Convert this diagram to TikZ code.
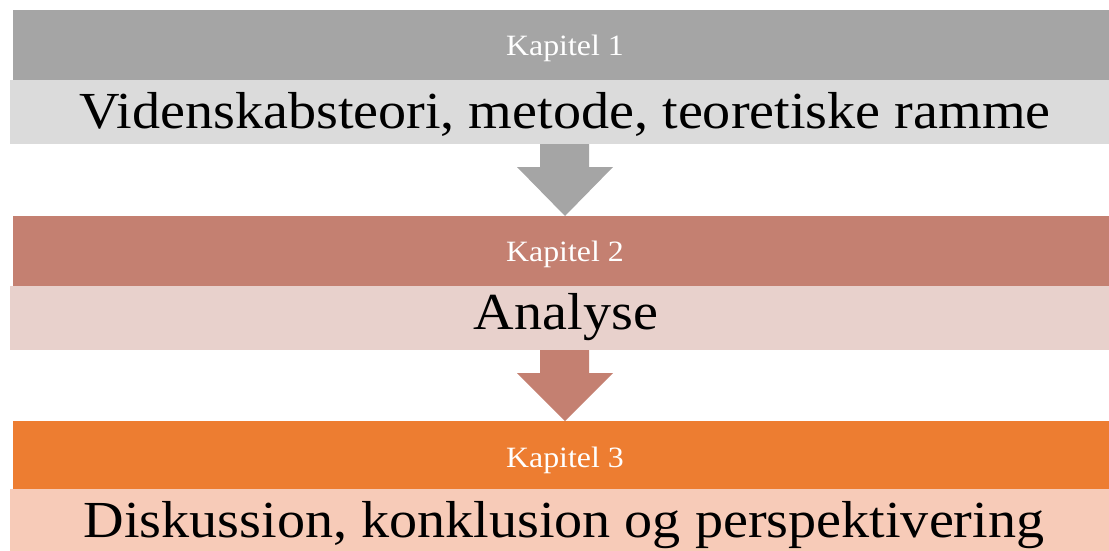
\documentclass[tikz,border=0pt]{standalone}
\usepackage{fontspec}
\setmainfont[FakeStretch=1.08]{Liberation Serif}
\definecolor{hdrA}{HTML}{A5A5A5}
\definecolor{barA}{HTML}{DBDBDB}
\definecolor{hdrB}{HTML}{C48071}
\definecolor{barB}{HTML}{E8D1CC}
\definecolor{hdrC}{HTML}{ED7D31}
\definecolor{barC}{HTML}{F7CBB8}
\tikzset{
  hdr/.style={anchor=north west, inner sep=0pt, minimum width=1096pt, minimum height=70pt, draw=none},
  bar/.style={anchor=north west, inner sep=0pt, minimum width=1099pt, minimum height=64pt, draw=none},
  small/.style={anchor=base, inner sep=0pt, text=white, font=\fontsize{29.5}{33}\selectfont},
  big/.style={anchor=base, inner sep=0pt, text=black, font=\fontsize{52}{60}\selectfont},
}
\begin{document}
\begin{tikzpicture}[x=1pt,y=-1pt]
\useasboundingbox (0,0) rectangle (1109,550);
% boxes
\node[hdr, fill=hdrA] (h1) at (13,10) {};
\node[bar, fill=barA] (b1) at (10,80) {};
\node[hdr, fill=hdrB] (h2) at (13,216) {};
\node[bar, fill=barB] (b2) at (10,286) {};
\node[hdr, fill=hdrC] (h3) at (13,421) {};
\node[bar, fill=barC, minimum height=70pt] (b3) at (10,489) {};
% arrows
\fill[hdrA] (540,144) -- (589,144) -- (589,167) -- (613,167) -- (565,216) -- (517,167) -- (540,167) -- cycle;
\fill[hdrB] (540,350) -- (589,350) -- (589,373) -- (613,373) -- (565,421) -- (517,373) -- (540,373) -- cycle;
% texts
\node[small] (k1) at (565,55) {Kapitel 1};
\node[big] (t1) at (565,128) {Videnskabsteori, metode, teoretiske ramme};
\node[small] (k2) at (565,261) {Kapitel 2};
\node[big] (t2) at (566,329) {Analyse};
\node[small] (k3) at (565,467) {Kapitel 3};
\node[big] (t3) at (564,537) {Diskussion, konklusion og perspektivering};
\end{tikzpicture}
\end{document}
